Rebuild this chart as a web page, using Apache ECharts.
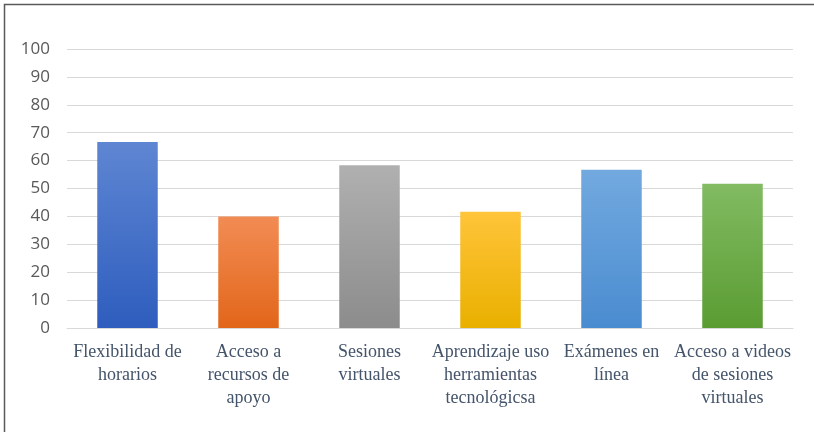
<!DOCTYPE html>
<html>
<head>
<meta charset="utf-8">
<script src="https://cdn.jsdelivr.net/npm/echarts@6/dist/echarts.min.js"></script>
<style>html,body{margin:0;padding:0;background:#fff}#c{width:814px;height:432px}</style>
</head>
<body>
<div id="c"></div>
<script>
const categories = ["Flexibilidad de\nhorarios", "Acceso a\nrecursos de\napoyo", "Sesiones\nvirtuales", "Aprendizaje uso\nherramientas\ntecnológicsa", "Exámenes en\nlínea", "Acceso a videos\nde sesiones\nvirtuales"];
const values = [66.7, 40, 58.3, 41.7, 56.7, 51.7];
const topColors = ["#5E86D2", "#F28C54", "#B0B0B0", "#FFC43A", "#72A9DF", "#82BB62"];
const bottomColors = ["#2E5DBE", "#E2661A", "#8C8C8C", "#E9B000", "#4A8CD0", "#5A9C32"];
const yTicks = {min: 0, max: 100, interval: 10};

const chart = echarts.init(document.getElementById('c'));
chart.setOption({
  animation: false,
  grid: {left: 67, right: 21, top: 49, bottom: 104},
  graphic: [{type: 'rect', shape: {x: 4.5, y: 4.5, width: 820, height: 440}, style: {fill: 'none', stroke: '#595959', lineWidth: 1.5}, silent: true}],
  xAxis: {
    type: 'category', data: categories,
    axisLine: {show: true, lineStyle: {color: '#D9D9D9'}},
    axisTick: {show: false},
    axisLabel: {color: '#44546A', fontFamily: 'Liberation Serif', fontSize: 18, lineHeight: 23, margin: 13, interval: 0}
  },
  yAxis: {
    type: 'value', min: yTicks.min, max: yTicks.max, interval: yTicks.interval,
    axisLine: {show: false}, axisTick: {show: false},
    splitLine: {lineStyle: {color: '#D9D9D9', width: 1}},
    axisLabel: {color: '#595959', fontFamily: 'Open Sans', fontSize: 17, margin: 17}
  },
  series: [{
    type: 'bar', barWidth: '50%',
    data: values.map((v, i) => ({
      value: v,
      itemStyle: {color: new echarts.graphic.LinearGradient(0, 0, 0, 1, [{offset: 0, color: topColors[i]}, {offset: 1, color: bottomColors[i]}])}
    }))
  }]
});
</script>
</body>
</html>
